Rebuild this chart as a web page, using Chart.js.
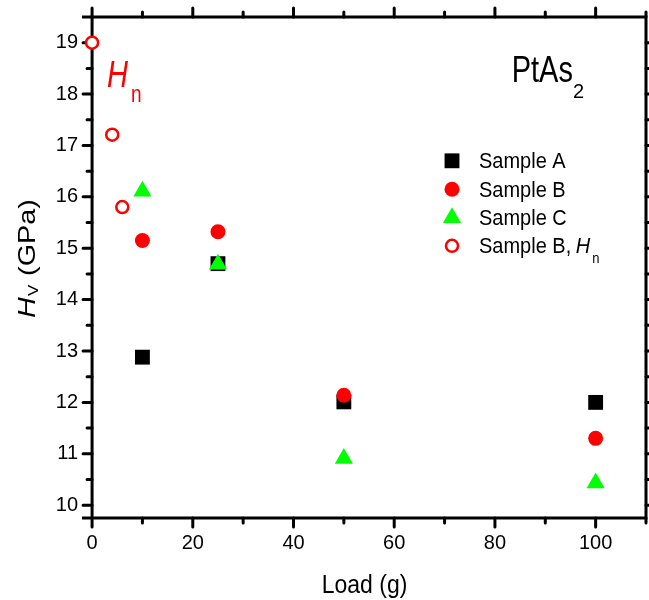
<!DOCTYPE html>
<html><head><meta charset="utf-8">
<script src="https://cdn.jsdelivr.net/npm/chart.js@4.4.1/dist/chart.umd.min.js"></script>
<style>html,body{margin:0;padding:0;background:#fff}#wrap{width:649px;height:600px}</style>
</head><body><div id="wrap"><canvas id="c" width="649" height="600"></canvas></div>
<script>
// ---- data ----
const loads = [10, 25, 50, 100];
const sampleA = [12.88, 14.70, 12.01, 12.00];
const sampleB = [15.15, 15.32, 12.14, 11.30];
const sampleC = [16.11, 14.69, 10.91, 10.43];
const hnLoads = [0, 4, 6];
const sampleBHn = [19.00, 17.21, 15.80];
const xTickValues = [0, 20, 40, 60, 80, 100];
const xMinorValues = [10, 30, 50, 70, 90, 110];
const yTickValues = [10, 11, 12, 13, 14, 15, 16, 17, 18, 19];
const yMinorValues = [10.5, 11.5, 12.5, 13.5, 14.5, 15.5, 16.5, 17.5, 18.5];
const seriesNames = ['Sample A', 'Sample B', 'Sample C', 'Sample B, '];

const FONT = "'Liberation Sans', Arial, sans-serif";
const RED = '#ff0000', GREEN = '#00ff00', BLACK = '#000000';

const styles = [
  {pointStyle: 'rect', radius: 10.5, bg: BLACK, bc: BLACK, bw: 0},
  {pointStyle: 'circle', radius: 7.5, bg: RED, bc: RED, bw: 0},
  {pointStyle: 'triangle', radius: 10.5, bg: GREEN, bc: GREEN, bw: 0},
  {pointStyle: 'circle', radius: 6, bg: '#ffffff', bc: RED, bw: 2.5}
];

function pts(xs, ys) { return xs.map((v, i) => ({x: v, y: ys[i]})); }
function ds(label, data, st, order) {
  return {label, data, order, pointStyle: st.pointStyle, pointRadius: st.radius,
    pointBackgroundColor: st.bg, pointBorderColor: st.bc, pointBorderWidth: st.bw,
    pointHoverRadius: st.radius, showLine: false, clip: false};
}

function rich(ctx, segs, x, y, opt) {
  ctx.save();
  ctx.translate(x, y);
  if (opt.rotate) ctx.rotate(opt.rotate);
  const sx = opt.sx || 1;
  const widths = segs.map(s => {
    ctx.font = (s.italic ? 'italic ' : '') + s.size + 'px ' + FONT;
    return ctx.measureText(s.t).width * sx + (s.gap || 0);
  });
  const total = widths.reduce((a, b) => a + b, 0);
  let cx = opt.align === 'center' ? -total / 2 : 0;
  segs.forEach((s, i) => {
    ctx.save();
    ctx.translate(cx, s.dy || 0);
    ctx.scale(sx, s.sy || opt.sy || 1);
    ctx.font = (s.italic ? 'italic ' : '') + s.size + 'px ' + FONT;
    ctx.fillStyle = opt.color || BLACK;
    ctx.textBaseline = 'alphabetic';
    ctx.textAlign = 'left';
    ctx.fillText(s.t, 0, 0);
    ctx.restore();
    cx += widths[i];
  });
  ctx.restore();
}

const frame = {
  id: 'frame',
  beforeDatasetsDraw(chart) {
    const {ctx, chartArea: a, scales: {x, y}} = chart;
    const x0 = x.getPixelForValue(0);
    ctx.save();
    ctx.strokeStyle = BLACK;
    ctx.lineWidth = 3;
    ctx.lineCap = 'butt';
    ctx.beginPath();
    ctx.moveTo(a.left, a.top); ctx.lineTo(a.right + 1.5, a.top);
    ctx.moveTo(a.left, a.bottom); ctx.lineTo(a.right + 1.5, a.bottom);
    ctx.moveTo(a.right, a.top); ctx.lineTo(a.right, a.bottom);
    ctx.moveTo(x0, a.top); ctx.lineTo(x0, a.bottom);
    ctx.stroke();
    ctx.lineCap = 'round';
    ctx.beginPath();
    const MAJ = 9, MIN = 5;
    xTickValues.forEach(v => {
      const p = x.getPixelForValue(v);
      ctx.moveTo(p, a.bottom); ctx.lineTo(p, a.bottom + MAJ);
      ctx.moveTo(p, a.top); ctx.lineTo(p, a.top - MAJ);
    });
    xMinorValues.forEach(v => {
      const p = x.getPixelForValue(v);
      ctx.moveTo(p, a.bottom); ctx.lineTo(p, a.bottom + MIN);
      ctx.moveTo(p, a.top); ctx.lineTo(p, a.top - MIN);
    });
    yTickValues.forEach(v => {
      const p = y.getPixelForValue(v);
      ctx.moveTo(x0, p); ctx.lineTo(x0 - MAJ, p);
      ctx.moveTo(a.right, p); ctx.lineTo(a.right + MAJ, p);
    });
    yMinorValues.forEach(v => {
      const p = y.getPixelForValue(v);
      ctx.moveTo(x0, p); ctx.lineTo(x0 - MIN, p);
      ctx.moveTo(a.right, p); ctx.lineTo(a.right + MIN, p);
    });
    ctx.stroke();
    ctx.restore();
  },
  afterDraw(chart) {
    const {ctx} = chart;
    // axis titles
    rich(ctx, [{t: 'Load (g)', size: 23}], 364.5, 593, {align: 'center', sy: 1.1});
    rich(ctx, [{t: 'H', size: 24, italic: true, gap: 1}, {t: 'V', size: 14, dy: 3, gap: 1}, {t: ' (GPa)', size: 24}],
      35, 258.5, {align: 'center', rotate: -Math.PI / 2, sx: 1.2});
    // annotations
    rich(ctx, [{t: 'PtAs', size: 29, sy: 1.28}, {t: '2', size: 20, dy: 16.3, sy: 1.0}], 511.7, 81.7, {});
    rich(ctx, [{t: 'H', size: 29, italic: true, gap: 3}, {t: 'n', size: 19, dy: 14.7}], 107, 87, {sy: 1.25, color: RED});
    // legend
    const lx = 452, tx = 479, bases = [168.3, 196.7, 225.3, 253.3];
    styles.forEach((st, i) => {
      const my = bases[i] - 7.5;
      ctx.save();
      ctx.fillStyle = st.bg; ctx.strokeStyle = st.bc; ctx.lineWidth = st.bw;
      Chart.helpers.drawPoint(ctx, {pointStyle: st.pointStyle, rotation: 0, radius: st.radius, borderWidth: st.bw}, lx, my);
      ctx.restore();
      const segs = [{t: seriesNames[i], size: 20}];
      if (i === 3) { segs[0].gap = -1; segs.push({t: 'H', size: 20, italic: true, gap: 2}); segs.push({t: 'n', size: 13, dy: 9.7}); }
      rich(ctx, segs, tx, bases[i], {sy: 1.1});
    });
  }
};

new Chart(document.getElementById('c'), {
  type: 'scatter',
  data: {
    datasets: [
      ds('Sample A', pts(loads, sampleA), styles[0], 3),
      ds('Sample B', pts(loads, sampleB), styles[1], 2),
      ds('Sample C', pts(loads, sampleC), styles[2], 1),
      ds('Sample B, Hn', pts(hnLoads, sampleBHn), styles[3], 0)
    ]
  },
  options: {
    responsive: false,
    devicePixelRatio: 1,
    animation: false,
    layout: {autoPadding: false, padding: {top: 17, right: 3, left: 0, bottom: 0}},
    plugins: {legend: {display: false}, tooltip: {enabled: false}},
    events: [],
    scales: {
      x: {
        type: 'linear', min: -2, max: 110,
        afterBuildTicks: s => { s.ticks = xTickValues.map(v => ({value: v})); },
        afterFit: s => { s.height = 82; s.paddingLeft = 0; s.paddingRight = 0; },
        grid: {display: false, drawTicks: false}, border: {display: false},
        ticks: {color: BLACK, font: {family: FONT, size: 20}, padding: 13, maxRotation: 0, autoSkip: false}
      },
      y: {
        type: 'linear', min: 9.75, max: 19.5,
        afterBuildTicks: s => { s.ticks = yTickValues.map(v => ({value: v})); },
        afterFit: s => { s.width = 82; s.paddingTop = 0; s.paddingBottom = 0; },
        grid: {display: false, drawTicks: false}, border: {display: false},
        ticks: {color: BLACK, font: {family: FONT, size: 20}, padding: 4, autoSkip: false}
      }
    }
  },
  plugins: [frame]
});
</script>
</body></html>
